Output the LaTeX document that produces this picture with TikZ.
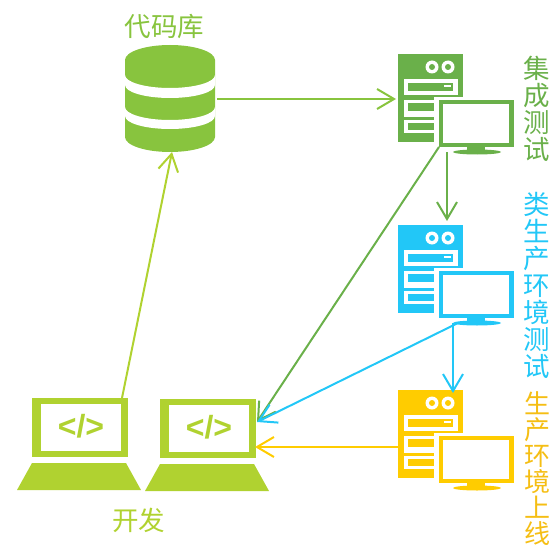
\documentclass[tikz,border=0pt]{standalone}
\usepackage{fontspec}
\setsansfont{Liberation Sans}
\newfontfamily\cjk{Noto Sans CJK SC}
\usetikzlibrary{arrows.meta, positioning}
\definecolor{repogreen}{RGB}{136,196,62}
\definecolor{devgreen}{RGB}{176,210,48}
\definecolor{cigreen}{RGB}{106,176,74}
\definecolor{uatblue}{RGB}{34,199,247}
\definecolor{prodyellow}{RGB}{255,204,0}
\definecolor{prodtext}{RGB}{245,190,20}

\tikzset{
  label26/.style={inner sep=0pt, font=\cjk\fontsize{26.5}{27}\selectfont},
  sidelabel/.style={inner sep=0pt, align=center, anchor=north, font=\cjk\fontsize{26.5}{27}\selectfont},
  flow/.style={-{Straight Barb[length=17pt,width=20pt,line width=2pt]}, line width=2pt},
  pics/servericon/.style={code={
    \fill[#1] (0,0) rectangle (65,43);
    \fill[#1] (0,43) rectangle (36,88);
    % Eyes
    \fill[white] (34,13) circle (6.5);
    \fill[white] (50,13) circle (6.5);
    \fill[#1] (34,13) circle (3);
    \fill[#1] (50,13) circle (3);
    % Slots
    \fill[white] (6,25) rectangle (60,41);
    \fill[#1] (10,29) rectangle (55,37);
    \fill[white] (46,31) rectangle (53,33);
    \fill[white] (6,46) rectangle (36,63);
    \fill[#1] (10,49) rectangle (36,57);
    \fill[white] (6,66) rectangle (36,79);
    \fill[#1] (10,69) rectangle (36,76);
    % Monitor
    \fill[white] (36,43) rectangle (120,96);
    \fill[#1] (41,46) rectangle (116,93);
    \fill[white] (45,50) rectangle (111,89);
    \fill[#1] (69,93) rectangle (87,98);
    \fill[#1] (79,98) ellipse (24 and 2.5);
  }},
  pics/laptopicon/.style={code={
    \fill[devgreen] (0,0) rectangle (96,59);
    \fill[white] (9,6) rectangle (89,53);
    \node[devgreen, inner sep=0pt, font=\sffamily\bfseries\fontsize{32}{32}\selectfont] at (49,28) {</>};
    \fill[devgreen] (0,65) -- (94,65) -- (109,92) -- (-15,92) -- cycle;
  }}
}

\begin{document}
\begin{tikzpicture}[x=1pt, y=-1pt]
  \useasboundingbox (0,0) rectangle (553,548);

  % --- Repository ---
  \fill[repogreen] (125,60) arc[start angle=180, end angle=360, x radius=45, y radius=15]
    -- (215,137) arc[start angle=0, end angle=180, x radius=45, y radius=15] -- cycle;
  \fill[white] (125,75) arc[start angle=180, end angle=0, x radius=45, y radius=13]
    -- (215,85) arc[start angle=0, end angle=180, x radius=45, y radius=13] -- cycle;
  \fill[white] (125,107) arc[start angle=180, end angle=0, x radius=45, y radius=13]
    -- (215,116) arc[start angle=0, end angle=180, x radius=45, y radius=13] -- cycle;
  \node[label26, repogreen] (repolabel) at (164.5,26) {代码库};

  % --- Servers ---
  \pic at (398,54) {servericon=cigreen};
  \pic at (398,225) {servericon=uatblue};
  \pic at (398,390) {servericon=prodyellow};
  \node[sidelabel, cigreen] (cilabel) at (537,56) {集\\成\\测\\试};
  \node[sidelabel, uatblue] (uatlabel) at (537,192) {类\\生\\产\\环\\境\\测\\试};
  \node[sidelabel, prodtext, font=\cjk\fontsize{26}{26}\selectfont] (prodlabel) at (537,391) {生\\产\\环\\境\\上\\线};

  % --- Developers ---
  \pic at (32,398) {laptopicon};
  \pic at (160,399) {laptopicon};
  \node[label26, devgreen] (devlabel) at (138.5,520) {开发};

  % Connector ends
  \coordinate (repoout) at (217,99);
  \coordinate (repoin) at (172,152);
  \coordinate (ciin) at (396,99);
  \coordinate (ciout) at (447,152);
  \coordinate (cileft) at (439,147);
  \coordinate (uatin) at (447,221);
  \coordinate (uatout) at (453,323);
  \coordinate (uatleft) at (458,323);
  \coordinate (prodin) at (453,393);
  \coordinate (prodout) at (398,447);
  \coordinate (devout) at (122,398);
  \coordinate (devtop) at (257,422);
  \coordinate (devlow) at (255,447);

  \draw[flow, repogreen] (repoout) -- (ciin);
  \draw[flow, devgreen] (devout) -- (repoin);
  \draw[flow, cigreen] (ciout) -- (uatin);
  \draw[flow, cigreen] (cileft) -- (devtop);
  \draw[flow, uatblue] (uatout) -- (prodin);
  \draw[flow, uatblue] (uatleft) -- (devtop);
  \draw[flow, prodyellow] (prodout) -- (devlow);
\end{tikzpicture}
\end{document}
